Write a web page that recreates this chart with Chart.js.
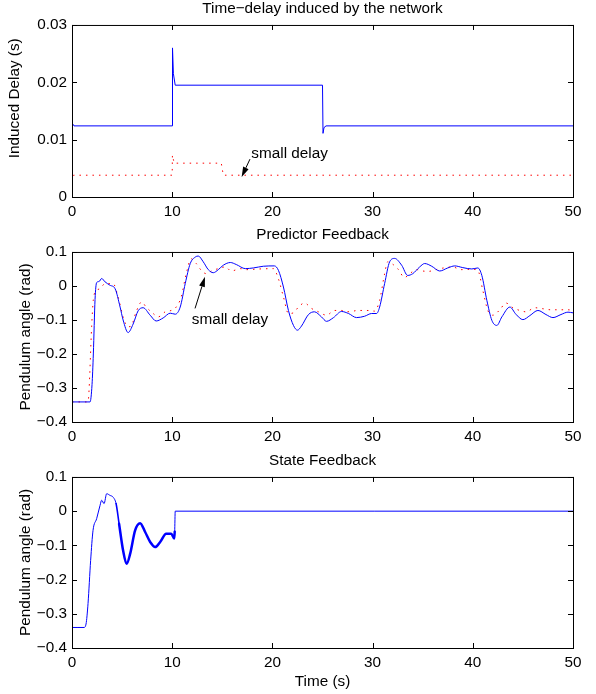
<!DOCTYPE html>
<html>
<head>
<meta charset="utf-8">
<script src="https://cdn.jsdelivr.net/npm/chart.js@4.4.1/dist/chart.umd.min.js"></script>
<style>
    body { margin: 0; background: #fff; }
    #wrap { position: relative; width: 596px; height: 694px; }
    canvas { position: absolute; left: 0; }
</style>
</head>
<body>
<div id="wrap">
    <canvas id="chDelay" width="596" height="224" style="top:0px"></canvas>
    <canvas id="chPred" width="596" height="224" style="top:224px"></canvas>
    <canvas id="chState" width="596" height="246" style="top:448px"></canvas>
</div>
<script>
//dati
let xTicks = [0, 10, 20, 30, 40, 50],
    yTicksDelay = [0, 0.01, 0.02, 0.03],
    yTicksAngle = [-0.4, -0.3, -0.2, -0.1, 0, 0.1];

//ritardo indotto dalla rete
let tDelay = [0, 0.02, 0.08, 0.2, 10, 10.03, 10.12, 10.3, 25, 25.05, 25.15, 25.35, 50],
    delayNet = [0.009, 0.015, 0.0128, 0.0124, 0.0124, 0.026, 0.0215, 0.0195, 0.0195, 0.0111, 0.0121, 0.0124, 0.0124];
let tDelaySmall = [0, 0.15, 10, 10.02, 10.2, 14.9, 15.1, 50],
    delaySmall = [0.0026, 0.0038, 0.0038, 0.0073, 0.0059, 0.0059, 0.0038, 0.0038];

//predictor feedback
let tPred = [0, 1.8, 2.0, 2.13, 2.3, 2.46, 2.7, 2.96, 3.3, 3.8, 4.3, 4.8, 5.1, 5.6, 6.1, 6.6, 7.1, 7.8, 8.4, 9.1,
        9.8, 10.3, 10.8, 11.3, 11.8, 12.3, 12.6, 13.1, 13.6, 14.1, 14.6, 15.1, 15.8, 16.4, 17.3, 18.1, 19.1, 20.2,
        20.6, 21.1, 21.6, 22.1, 22.5, 22.9, 23.6, 24.2, 24.9, 25.4, 26.1, 26.9, 27.6, 28.4, 29.2, 29.9, 30.4, 30.7,
        31.2, 31.7, 32.2, 32.9, 33.5, 34.0, 34.7, 35.2, 35.9, 36.7, 37.5, 38.2, 39.0, 39.9, 40.5, 40.9, 41.4, 41.9,
        42.4, 42.9, 43.7, 44.3, 45.0, 45.7, 46.5, 47.3, 48.0, 48.8, 49.5, 50],
    predAngle = [-0.341, -0.341, -0.29, -0.2, -0.04, 0.01, 0.013, 0.022, 0.012, 0.002, -0.008, -0.062, -0.1, -0.137,
        -0.112, -0.073, -0.064, -0.086, -0.103, -0.094, -0.08, -0.083, -0.062, 0.007, 0.066, 0.085, 0.088, 0.071,
        0.048, 0.039, 0.048, 0.061, 0.069, 0.063, 0.051, 0.053, 0.058, 0.059, 0.046, -0.003, -0.072, -0.116, -0.13,
        -0.118, -0.084, -0.076, -0.091, -0.104, -0.093, -0.075, -0.081, -0.093, -0.089, -0.081, -0.081, -0.062,
        0.007, 0.071, 0.081, 0.061, 0.031, 0.036, 0.056, 0.066, 0.058, 0.044, 0.053, 0.059, 0.054, 0.05, 0.053,
        0.031, -0.042, -0.101, -0.116, -0.091, -0.062, -0.083, -0.099, -0.087, -0.072, -0.084, -0.093, -0.084,
        -0.077, -0.079];
let tPredSmall = [0, 1.6, 1.7, 1.96, 2.13, 2.46, 2.8, 3.3, 4.1, 4.6, 5.1, 5.6, 5.9, 6.4, 6.95, 7.4, 8.1, 8.6, 9.3,
        9.9, 10.4, 10.9, 11.4, 11.9, 12.4, 12.9, 13.4, 13.9, 14.6, 15.3, 15.9, 16.8, 17.4, 18.7, 20.1, 20.6, 21.1,
        21.6, 22.1, 22.6, 23.2, 23.9, 24.6, 25.4, 26.2, 26.9, 27.7, 28.5, 29.4, 30.2, 30.7, 31.2, 31.5, 32.0, 32.5,
        33.2, 33.7, 34.4, 35.0, 35.6, 36.3, 37.1, 38.0, 38.8, 39.9, 40.5, 41.0, 41.5, 42.0, 42.7, 43.3, 44.0, 44.7,
        45.3, 46.2, 47.0, 47.8, 48.7, 49.5, 50],
    predSmall = [-0.341, -0.341, -0.307, -0.12, -0.04, -0.013, -0.008, 0.007, 0.007, -0.032, -0.091, -0.12, -0.118,
        -0.076, -0.047, -0.062, -0.081, -0.091, -0.076, -0.072, -0.062, -0.032, 0.036, 0.08, 0.066, 0.046, 0.036,
        0.044, 0.051, 0.056, 0.044, 0.051, 0.048, 0.05, 0.051, 0.021, -0.032, -0.081, -0.079, -0.062, -0.05, -0.066,
        -0.076, -0.086, -0.072, -0.072, -0.076, -0.072, -0.072, -0.074, -0.042, 0.036, 0.071, 0.064, 0.051, 0.025,
        0.036, 0.048, 0.044, 0.043, 0.048, 0.053, 0.056, 0.048, 0.049, 0.046, -0.013, -0.072, -0.086, -0.07, -0.05,
        -0.064, -0.072, -0.076, -0.064, -0.067, -0.07, -0.07, -0.07, -0.072];

//state feedback
let tState = [0, 1.2, 1.4, 1.6, 1.86, 2.1, 2.46, 2.8, 2.96, 3.2, 3.46, 3.8, 4.1, 4.4, 4.7, 5.1, 5.45, 5.8, 6.3,
        6.8, 7.3, 7.8, 8.3, 8.8, 9.4, 9.9, 10.2, 10.25, 10.3, 50],
    stateAngle = [-0.34, -0.34, -0.33, -0.27, -0.144, -0.056, -0.022, 0.017, 0.032, 0.022, 0.051, 0.046, 0.041,
        0.022, -0.037, -0.115, -0.154, -0.125, -0.056, -0.035, -0.061, -0.09, -0.105, -0.09, -0.066, -0.066,
        -0.08, -0.06, 0, 0];

let fontFam = '"Liberation Sans", Arial, Helvetica, sans-serif',
    fontSize = 15.3;

Chart.defaults.font.family = fontFam;
Chart.defaults.font.size = fontSize;
Chart.defaults.color = "#000";

function punti(t, y) {
    return t.map(function (v, i) { return { x: v, y: y[i] }; });
}

//cornice e tacche rivolte verso l'interno
let boxTicks = {
    id: "boxTicks",
    afterDraw: function (chart) {
        let ctx = chart.ctx, a = chart.chartArea, sx = chart.scales.x, sy = chart.scales.y;
        ctx.save();
        ctx.strokeStyle = "#000";
        ctx.lineWidth = 1;
        ctx.beginPath();
        sx.ticks.forEach(function (t) {
            let p = Math.round(sx.getPixelForValue(t.value)) + 0.5;
            ctx.moveTo(p, a.bottom); ctx.lineTo(p, a.bottom - 5);
            ctx.moveTo(p, a.top); ctx.lineTo(p, a.top + 5);
        });
        sy.ticks.forEach(function (t) {
            let p = Math.round(sy.getPixelForValue(t.value)) + 0.5;
            ctx.moveTo(a.left, p); ctx.lineTo(a.left + 5, p);
            ctx.moveTo(a.right, p); ctx.lineTo(a.right - 5, p);
        });
        ctx.stroke();
        ctx.strokeRect(a.left + 0.5, a.top + 0.5, a.right - a.left, a.bottom - a.top);
        ctx.restore();
    }
};

//testo "small delay" con freccia
let nota = {
    id: "nota",
    afterDatasetsDraw: function (chart, args, opts) {
        if (!opts || !opts.testo) return;
        let ctx = chart.ctx, sx = chart.scales.x, sy = chart.scales.y;
        let x0 = sx.getPixelForValue(opts.coda[0]), y0 = sy.getPixelForValue(opts.coda[1]),
            x1 = sx.getPixelForValue(opts.punta[0]), y1 = sy.getPixelForValue(opts.punta[1]);
        let ang = Math.atan2(y1 - y0, x1 - x0), c = Math.cos(ang), s = Math.sin(ang), lt = 10, lw = 3;
        ctx.save();
        ctx.strokeStyle = "#000";
        ctx.fillStyle = "#000";
        ctx.lineWidth = 1;
        ctx.beginPath();
        ctx.moveTo(x0, y0);
        ctx.lineTo(x1 - lt * c, y1 - lt * s);
        ctx.stroke();
        ctx.beginPath();
        ctx.moveTo(x1, y1);
        ctx.lineTo(x1 - lt * c + lw * s, y1 - lt * s - lw * c);
        ctx.lineTo(x1 - lt * c - lw * s, y1 - lt * s + lw * c);
        ctx.closePath();
        ctx.fill();
        ctx.font = fontSize + "px " + fontFam;
        ctx.textBaseline = "alphabetic";
        ctx.textAlign = "left";
        ctx.fillText(opts.testo, sx.getPixelForValue(opts.pos[0]), sy.getPixelForValue(opts.pos[1]));
        ctx.restore();
    }
};

function meno(v) {
    return String(v).replace("-", "\u2212");
}

function creaOpzioni(titolo, padTit, yTicks, yMin, yMax, yLabel, yPad, altX, xLabel, notaOpt) {
    return {
        responsive: false,
        animation: false,
        devicePixelRatio: 1,
        events: [],
        layout: { padding: { left: 0, right: 23, top: 0, bottom: 0 } },
        plugins: {
            legend: { display: false },
            tooltip: { enabled: false },
            title: {
                display: true,
                fullSize: false,
                text: titolo,
                color: "#000",
                font: { size: fontSize, weight: "normal" },
                padding: padTit
            },
            nota: notaOpt || {}
        },
        scales: {
            x: {
                type: "linear",
                min: 0,
                max: 50,
                afterBuildTicks: function (s) { s.ticks = xTicks.map(function (v) { return { value: v }; }); },
                afterFit: function (s) { s.height = altX; },
                grid: { display: false, drawTicks: false },
                border: { display: false },
                ticks: { padding: 6, maxRotation: 0, autoSkip: false, color: "#000", callback: meno },
                title: { display: !!xLabel, text: xLabel || "", color: "#000", padding: { top: 0, bottom: 3 } }
            },
            y: {
                type: "linear",
                min: yMin,
                max: yMax,
                afterBuildTicks: function (s) { s.ticks = yTicks.map(function (v) { return { value: v }; }); },
                afterFit: function (s) { s.width = 72; },
                grid: { display: false, drawTicks: false },
                border: { display: false },
                ticks: { padding: 5, autoSkip: false, color: "#000", callback: meno },
                title: { display: true, text: yLabel, color: "#000", padding: { top: yPad, bottom: 0 } }
            }
        }
    };
}

//grafico ritardo
new Chart(document.getElementById("chDelay"), {
    type: "line",
    data: {
        datasets: [
            { data: punti(tDelay, delayNet), borderColor: "#0000ff", borderWidth: 1, pointRadius: 0, tension: 0 },
            { data: punti(tDelaySmall, delaySmall), borderColor: "#ff0000", borderWidth: 1, borderDash: [1.5, 5], pointRadius: 0, tension: 0 }
        ]
    },
    options: creaOpzioni("Time\u2212delay induced by the network", { top: 0, bottom: 6.6 }, yTicksDelay, 0, 0.03,
        "      Induced Delay (s)", 5.8, 27, null,
        { testo: "small delay", pos: [17.9, 0.0068], coda: [17.76, 0.0066], punta: [16.93, 0.0035] }),
    plugins: [boxTicks, nota]
});

//grafico predictor
new Chart(document.getElementById("chPred"), {
    type: "line",
    data: {
        datasets: [
            { data: punti(tPred, predAngle), borderColor: "#0000ff", borderWidth: 1, pointRadius: 0, cubicInterpolationMode: "monotone" },
            { data: punti(tPredSmall, predSmall), borderColor: "#ff0000", borderWidth: 1, borderDash: [1.5, 5], pointRadius: 0, cubicInterpolationMode: "monotone" }
        ]
    },
    options: creaOpzioni("Predictor Feedback", { top: 1.5, bottom: 8.1 }, yTicksAngle, -0.4, 0.1,
        "Pendulum angle (rad)", 16.8, 26, null,
        { testo: "small delay", pos: [11.95, -0.112], coda: [12.28, -0.066], punta: [13.27, 0.027] }),
    plugins: [boxTicks, nota]
});

//grafico state feedback
new Chart(document.getElementById("chState"), {
    type: "line",
    data: {
        datasets: [
            {
                data: punti(tState, stateAngle), borderColor: "#0000ff", borderWidth: 1, pointRadius: 0,
                borderCapStyle: "round", borderJoinStyle: "round",
                cubicInterpolationMode: "monotone",
                segment: {
                    borderWidth: function (c) {
                        let x = c.p0.parsed.x;
                        if (x >= 4.7 && c.p1.parsed.x <= 10.25) return 2.5;
                        if (x >= 4.4 && x < 4.7) return 1.6;
                        return 1;
                    }
                }
            }
        ]
    },
    options: creaOpzioni("State Feedback", { top: 3.3, bottom: 7.3 }, yTicksAngle, -0.4, 0.1,
        "Pendulum angle (rad)", 16.8, 46, "Time (s)", null),
    plugins: [boxTicks]
});
</script>
</body>
</html>
